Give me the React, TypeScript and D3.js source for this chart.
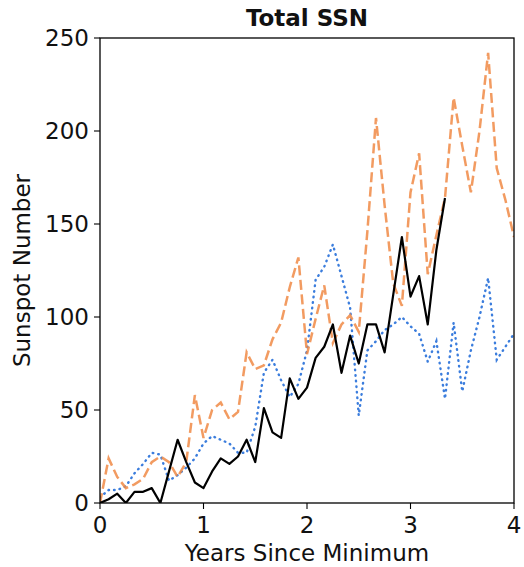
import React from "react";
import * as d3 from "d3";

// Monthly sunspot numbers, indexed by months since solar minimum
const currentCycle = [
  0, 2, 5, 0, 6, 6, 8, 0, 17, 34, 22, 11, 8, 17, 24, 21, 25, 34, 22, 51, 38,
  35, 67, 56, 62, 78, 84, 96, 70, 90, 75, 96, 96, 81, 112, 143, 111, 122, 96,
  136, 164,
];
const upperCycle = [
  0, 24, 14, 8, 10, 13, 22, 25, 22, 14, 22, 58, 35, 50, 54, 45, 49, 81, 72, 74,
  88, 97, 116, 132, 80, 99, 117, 86, 96, 101, 92, 146, 207, 160, 118, 106, 167,
  188, 123, 144, 164, 218, 192, 167, 200, 242, 180, 163, 143,
];
const lowerCycle = [
  3, 7, 7, 9, 16, 21, 27, 26, 12, 15, 19, 24, 32, 36, 34, 32, 27, 27, 41, 70,
  77, 66, 57, 64, 82, 120, 127, 139, 122, 105, 47, 82, 87, 93, 96, 100, 95, 91,
  76, 87, 56, 97, 60, 82, 100, 121, 77, 84, 91,
];
const xTicks = [0, 1, 2, 3, 4];
const yTicks = [0, 50, 100, 150, 200, 250];

const W = 524;
const H = 567;
const margin = { left: 100, right: 10, top: 38, bottom: 64 };
const FONT = "DejaVu Sans, sans-serif";
const FS = 23;

export default function App() {
  const x = d3
    .scaleLinear()
    .domain([0, 4])
    .range([margin.left, W - margin.right]);
  const y = d3
    .scaleLinear()
    .domain([0, 250])
    .range([H - margin.bottom, margin.top]);

  const line = d3
    .line<number>()
    .x((_, i) => x(i / 12))
    .y((d) => y(d));

  const x0 = x(0);
  const x1 = x(4);
  const y0 = y(0);
  const y1 = y(250);

  return (
    <svg
      width={W}
      height={H}
      style={{ position: "absolute", left: 0, top: 0, background: "#fff" }}
      fontFamily={FONT}
    >
      <defs>
        <clipPath id="plot-clip">
          <rect x={x0} y={y1} width={x1 - x0} height={y0 - y1} />
        </clipPath>
      </defs>
      <g clipPath="url(#plot-clip)">
        <path
          d={line(lowerCycle) ?? ""}
          fill="none"
          stroke="#3b7ddd"
          strokeWidth={2.4}
          strokeDasharray="0.6 5"
          strokeLinecap="round"
        />
        <path
          d={line(upperCycle) ?? ""}
          fill="none"
          stroke="#f08a45"
          strokeOpacity={0.85}
          strokeWidth={2.5}
          strokeDasharray="10 4.5"
        />
        <path
          d={line(currentCycle) ?? ""}
          fill="none"
          stroke="#000"
          strokeWidth={2.2}
          strokeLinejoin="round"
        />
      </g>
      <rect
        x={x0}
        y={y1}
        width={x1 - x0}
        height={y0 - y1}
        fill="none"
        stroke="#000"
        strokeWidth={1.3}
      />
      {yTicks.map((t) => (
        <g key={`y${t}`}>
          <line x1={x0 - 6} x2={x0} y1={y(t)} y2={y(t)} stroke="#000" strokeWidth={1.1} />
          <text
            x={x0 - 11}
            y={y(t)}
            dy="0.36em"
            textAnchor="end"
            fontSize={FS}
            fill="#111"
          >
            {t}
          </text>
        </g>
      ))}
      {xTicks.map((t) => (
        <g key={`x${t}`}>
          <line x1={x(t)} x2={x(t)} y1={y0} y2={y0 + 6} stroke="#000" strokeWidth={1.1} />
          <text
            x={x(t)}
            y={y0 + 30}
            textAnchor="middle"
            fontSize={FS}
            fill="#111"
          >
            {t}
          </text>
        </g>
      ))}
      <text
        x={(x0 + x1) / 2}
        y={y0 + 58}
        textAnchor="middle"
        fontSize={FS}
        fill="#111"
      >
        Years Since Minimum
      </text>
      <text
        transform={`translate(30,${(y0 + y1) / 2}) rotate(-90)`}
        textAnchor="middle"
        fontSize={FS}
        fill="#111"
      >
        Sunspot Number
      </text>
      <text
        x={(x0 + x1) / 2}
        y={y1 - 12}
        textAnchor="middle"
        fontSize={FS}
        fontWeight="bold"
        fill="#111"
      >
        Total SSN
      </text>
    </svg>
  );
}
